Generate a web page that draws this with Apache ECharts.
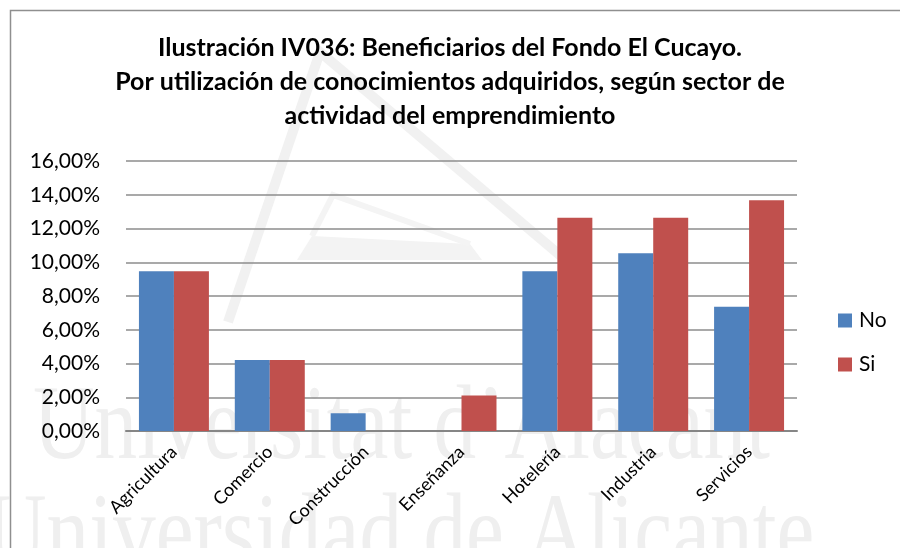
<!DOCTYPE html>
<html>
<head>
<meta charset="utf-8">
<script src="https://cdn.jsdelivr.net/npm/echarts@6/dist/echarts.min.js"></script>
<style>
  html, body { margin: 0; padding: 0; background: #ffffff; }
  #chart { width: 900px; height: 548px; }
</style>
</head>
<body>
<div id="chart"></div>
<script>
// Sectores de actividad del emprendimiento
const categories = ['Agricultura', 'Comercio', 'Construcción', 'Enseñanza', 'Hotelería', 'Industria', 'Servicios'];
// Porcentaje de beneficiarios (en %)
const valuesNo = [9.47, 4.21, 1.05, 0, 9.47, 10.53, 7.37];
const valuesSi = [9.47, 4.21, 0, 2.11, 12.63, 12.63, 13.68];
const seriesNames = ['No', 'Si'];
const yTicks = { min: 0, max: 16, interval: 2 };

const titleText = 'Ilustración IV036: Beneficiarios del Fondo El Cucayo.\nPor utilización de conocimientos adquiridos, según sector de\nactividad del emprendimiento';

const FONT = 'Lato, "Open Sans", sans-serif';
const WATERMARK_FONT = '106px "Liberation Serif", "DejaVu Serif", serif';
const WATERMARK_COLOR = '#efefef';
const chart = echarts.init(document.getElementById('chart'), null, { renderer: 'canvas' });

const option = {
  backgroundColor: '#ffffff',
  animation: false,
  title: {
    text: titleText,
    left: 'center',
    top: 26,
    textStyle: {
      fontFamily: FONT,
      fontSize: 25,
      fontWeight: 'bold',
      color: '#000000',
      lineHeight: 34
    }
  },
  legend: {
    data: seriesNames,
    orient: 'vertical',
    left: 833,
    top: 305,
    itemWidth: 14,
    itemHeight: 14,
    itemGap: 23,
    icon: 'rect',
    textStyle: { fontFamily: FONT, fontSize: 21, color: '#000000', padding: [0, 0, 0, 2] }
  },
  grid: { left: 126, right: 103, top: 161, bottom: 117, containLabel: false },
  xAxis: {
    type: 'category',
    data: categories,
    axisLine: { lineStyle: { color: '#868686', width: 2 } },
    axisTick: { show: false },
    axisLabel: {
      rotate: 45,
      margin: 18,
      interval: 0,
      fontFamily: FONT,
      fontSize: 18,
      color: '#000000'
    }
  },
  yAxis: {
    type: 'value',
    min: yTicks.min,
    max: yTicks.max,
    interval: yTicks.interval,
    axisLine: { show: false },
    axisTick: { show: false },
    splitLine: { lineStyle: { color: '#8c8c8c', width: 1.5 } },
    axisLabel: {
      margin: 26,
      fontFamily: FONT,
      fontSize: 21,
      color: '#000000',
      formatter: v => v.toFixed(2).replace('.', ',') + '%'
    }
  },
  series: [
    {
      name: seriesNames[0],
      type: 'bar',
      data: valuesNo,
      barGap: '0%',
      barCategoryGap: '27%',
      itemStyle: { color: '#4F81BD' }
    },
    {
      name: seriesNames[1],
      type: 'bar',
      data: valuesSi,
      itemStyle: { color: '#C0504D' }
    }
  ],
  graphic: [
    // marco del gráfico
    {
      type: 'rect',
      z: 100,
      silent: true,
      shape: { x: 10.5, y: 10.5, width: 1000, height: 1000 },
      style: { fill: null, stroke: '#8f8f8f', lineWidth: 1.5 }
    },
    // marca de agua institucional: logotipo triangular
    {
      type: 'polyline',
      z: -10,
      silent: true,
      shape: { points: [[228, 322], [320, 52], [575, 268]] },
      style: { fill: null, stroke: '#f1f1f1', lineWidth: 10 }
    },
    {
      type: 'polygon',
      z: -10,
      silent: true,
      shape: { points: [[297, 260], [482, 260], [470, 244], [312, 236]] },
      style: { fill: '#f3f3f3' }
    },
    {
      type: 'polyline',
      z: -10,
      silent: true,
      shape: { points: [[312, 236], [333, 195], [470, 244]] },
      style: { fill: null, stroke: '#f4f4f4', lineWidth: 6 }
    },
    // marca de agua institucional: leyendas
    {
      type: 'text',
      z: -10,
      silent: true,
      x: 33,
      y: 377,
      scaleX: 0.805,
      style: {
        text: 'Universitat d\u2019Alacant',
        font: WATERMARK_FONT,
        fill: WATERMARK_COLOR
      }
    },
    {
      type: 'text',
      z: -10,
      silent: true,
      x: -15,
      y: 485,
      scaleX: 0.805,
      style: {
        text: 'Universidad de Alicante',
        font: WATERMARK_FONT,
        fill: WATERMARK_COLOR
      }
    }
  ]
};

chart.setOption(option);
</script>
</body>
</html>
